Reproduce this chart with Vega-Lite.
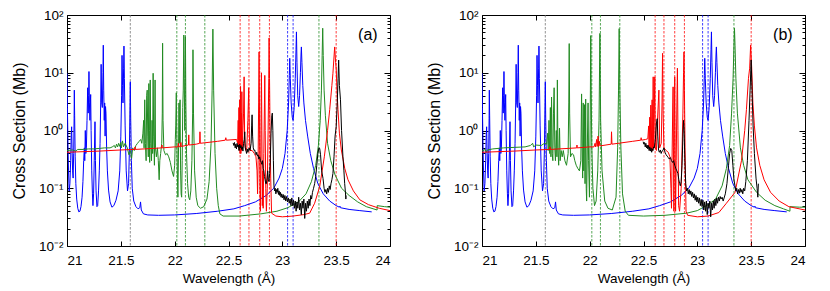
{
"$schema": "https://vega.github.io/schema/vega-lite/v6.json",
"background": "white",
"padding": {"left": 10, "top": 7, "right": 5, "bottom": 5},
"spacing": 34,
"config": {
  "view": {"stroke": "#000", "strokeWidth": 1},
  "font": "Liberation Sans",
  "axis": {"grid": false, "domain": false, "labelFont": "Liberation Sans", "titleFont": "Liberation Sans", "labelColor": "#000", "titleColor": "#000", "tickColor": "#000", "labelOverlap": false}
},
"datasets": {
"blue": [
{"x":21.000,"y":9.8},{"x":21.004,"y":2.5},{"x":21.009,"y":0.6},{"x":21.014,"y":0.2},{"x":21.020,"y":0.09},{"x":21.027,"y":0.12},{"x":21.034,"y":0.3},{"x":21.039,"y":0.8},{"x":21.043,"y":1.16},{"x":21.047,"y":0.5},{"x":21.052,"y":0.2},{"x":21.057,"y":0.15},{"x":21.062,"y":0.4},{"x":21.066,"y":1.6},{"x":21.068,"y":5.0},{"x":21.071,"y":1.8},{"x":21.076,"y":0.35},{"x":21.082,"y":0.12},{"x":21.090,"y":0.065},{"x":21.100,"y":0.045},{"x":21.110,"y":0.039},{"x":21.120,"y":0.04},{"x":21.130,"y":0.048},{"x":21.140,"y":0.07},{"x":21.148,"y":0.13},{"x":21.155,"y":0.3},{"x":21.161,"y":0.5},{"x":21.165,"y":0.3},{"x":21.170,"y":1.0},{"x":21.175,"y":0.4},{"x":21.180,"y":0.5},{"x":21.186,"y":1.5},{"x":21.192,"y":5.5},{"x":21.197,"y":2.0},{"x":21.201,"y":4},{"x":21.204,"y":10.5},{"x":21.208,"y":3},{"x":21.213,"y":1.5},{"x":21.218,"y":3.5},{"x":21.220,"y":4.2},{"x":21.224,"y":1.0},{"x":21.230,"y":0.2},{"x":21.236,"y":0.08},{"x":21.241,"y":0.05},{"x":21.247,"y":0.08},{"x":21.253,"y":0.3},{"x":21.260,"y":1.42},{"x":21.264,"y":0.3},{"x":21.270,"y":0.09},{"x":21.278,"y":0.048},{"x":21.285,"y":0.05},{"x":21.293,"y":0.09},{"x":21.300,"y":0.2},{"x":21.307,"y":0.6},{"x":21.313,"y":3},{"x":21.317,"y":14},{"x":21.322,"y":3},{"x":21.328,"y":2.5},{"x":21.334,"y":10},{"x":21.337,"y":30},{"x":21.341,"y":5},{"x":21.346,"y":1.5},{"x":21.350,"y":3.0},{"x":21.354,"y":0.8},{"x":21.358,"y":2.6},{"x":21.362,"y":2.0},{"x":21.368,"y":0.5},{"x":21.375,"y":0.2},{"x":21.386,"y":0.093},{"x":21.400,"y":0.058},{"x":21.417,"y":0.047},{"x":21.435,"y":0.05},{"x":21.455,"y":0.062},{"x":21.475,"y":0.09},{"x":21.490,"y":0.2},{"x":21.500,"y":0.8},{"x":21.507,"y":4},{"x":21.511,"y":20},{"x":21.516,"y":6},{"x":21.520,"y":3},{"x":21.526,"y":12},{"x":21.529,"y":29},{"x":21.533,"y":8},{"x":21.540,"y":1.2},{"x":21.550,"y":0.2},{"x":21.562,"y":0.09},{"x":21.572,"y":0.12},{"x":21.580,"y":0.5},{"x":21.585,"y":3},{"x":21.588,"y":7.0},{"x":21.592,"y":1.5},{"x":21.598,"y":0.3},{"x":21.606,"y":0.1},{"x":21.620,"y":0.06},{"x":21.640,"y":0.048},{"x":21.660,"y":0.044},{"x":21.676,"y":0.046},{"x":21.683,"y":0.058},{"x":21.690,"y":0.042},{"x":21.710,"y":0.036},{"x":21.750,"y":0.0345},{"x":21.850,"y":0.034},{"x":22.000,"y":0.0345},{"x":22.200,"y":0.0365},{"x":22.400,"y":0.04},{"x":22.550,"y":0.044},{"x":22.650,"y":0.05},{"x":22.750,"y":0.058},{"x":22.850,"y":0.075},{"x":22.920,"y":0.1},{"x":22.970,"y":0.15},{"x":23.000,"y":0.22},{"x":23.025,"y":0.4},{"x":23.045,"y":1.0},{"x":23.058,"y":3},{"x":23.065,"y":9},{"x":23.069,"y":17.8},{"x":23.074,"y":8},{"x":23.082,"y":3},{"x":23.092,"y":1.7},{"x":23.100,"y":1.5},{"x":23.110,"y":2.5},{"x":23.120,"y":8},{"x":23.127,"y":25},{"x":23.131,"y":51},{"x":23.136,"y":15},{"x":23.143,"y":4},{"x":23.152,"y":2.6},{"x":23.160,"y":4},{"x":23.168,"y":10},{"x":23.174,"y":22},{"x":23.177,"y":28},{"x":23.182,"y":15},{"x":23.190,"y":6},{"x":23.200,"y":3},{"x":23.215,"y":1.5},{"x":23.235,"y":0.8},{"x":23.260,"y":0.4},{"x":23.290,"y":0.22},{"x":23.330,"y":0.12},{"x":23.380,"y":0.08},{"x":23.440,"y":0.06},{"x":23.500,"y":0.05},{"x":23.530,"y":0.047},{"x":23.535,"y":0.049},{"x":23.540,"y":0.046},{"x":23.620,"y":0.043},{"x":23.720,"y":0.041},{"x":23.830,"y":0.039}
],
"ga": [
{"x":21.000,"y":0.45},{"x":21.050,"y":0.46},{"x":21.080,"y":0.44},{"x":21.100,"y":0.47},{"x":21.150,"y":0.47},{"x":21.200,"y":0.48},{"x":21.250,"y":0.48},{"x":21.300,"y":0.49},{"x":21.350,"y":0.50},{"x":21.400,"y":0.50},{"x":21.420,"y":0.52},{"x":21.440,"y":0.55},{"x":21.450,"y":0.50},{"x":21.460,"y":0.58},{"x":21.470,"y":0.52},{"x":21.480,"y":0.6},{"x":21.490,"y":0.53},{"x":21.500,"y":0.62},{"x":21.505,"y":0.5},{"x":21.515,"y":0.66},{"x":21.525,"y":0.52},{"x":21.540,"y":0.6},{"x":21.560,"y":0.5},{"x":21.575,"y":0.38},{"x":21.590,"y":0.45},{"x":21.600,"y":0.33},{"x":21.610,"y":0.5},{"x":21.625,"y":0.45},{"x":21.640,"y":0.55},{"x":21.655,"y":0.6},{"x":21.670,"y":0.65},{"x":21.685,"y":0.7},{"x":21.695,"y":0.6},{"x":21.705,"y":0.9},{"x":21.712,"y":1.5},{"x":21.716,"y":0.5},{"x":21.722,"y":3.4},{"x":21.728,"y":0.6},{"x":21.735,"y":0.3},{"x":21.740,"y":4.0},{"x":21.745,"y":5.0},{"x":21.750,"y":0.8},{"x":21.755,"y":0.35},{"x":21.760,"y":6.5},{"x":21.765,"y":1.0},{"x":21.768,"y":0.28},{"x":21.773,"y":7.5},{"x":21.778,"y":0.6},{"x":21.785,"y":0.3},{"x":21.790,"y":1.5},{"x":21.795,"y":0.4},{"x":21.800,"y":9.8},{"x":21.805,"y":0.8},{"x":21.812,"y":0.25},{"x":21.818,"y":7.5},{"x":21.822,"y":0.5},{"x":21.830,"y":0.35},{"x":21.840,"y":0.5},{"x":21.848,"y":0.3},{"x":21.856,"y":0.14},{"x":21.862,"y":0.3},{"x":21.870,"y":0.4},{"x":21.880,"y":0.6},{"x":21.885,"y":2},{"x":21.888,"y":32.5},{"x":21.892,"y":1.5},{"x":21.900,"y":0.45},{"x":21.915,"y":0.38},{"x":21.930,"y":0.4},{"x":21.945,"y":0.35},{"x":21.960,"y":0.28},{"x":21.975,"y":0.2},{"x":21.990,"y":0.16},{"x":22.000,"y":0.25},{"x":22.006,"y":0.7},{"x":22.010,"y":1.2},{"x":22.015,"y":4.5},{"x":22.020,"y":0.8},{"x":22.026,"y":0.15},{"x":22.030,"y":0.07},{"x":22.036,"y":0.5},{"x":22.040,"y":3},{"x":22.044,"y":0.6},{"x":22.050,"y":3.4},{"x":22.055,"y":0.2},{"x":22.060,"y":0.08},{"x":22.065,"y":0.07},{"x":22.070,"y":0.3},{"x":22.075,"y":2.5},{"x":22.080,"y":5},{"x":22.085,"y":45},{"x":22.089,"y":8},{"x":22.094,"y":1},{"x":22.098,"y":8},{"x":22.100,"y":42},{"x":22.104,"y":3},{"x":22.110,"y":0.4},{"x":22.120,"y":0.12},{"x":22.130,"y":0.07},{"x":22.140,"y":0.063},{"x":22.150,"y":0.09},{"x":22.160,"y":0.3},{"x":22.167,"y":2},{"x":22.170,"y":25},{"x":22.175,"y":2},{"x":22.185,"y":0.2},{"x":22.200,"y":0.07},{"x":22.215,"y":0.05},{"x":22.240,"y":0.045},{"x":22.270,"y":0.048},{"x":22.300,"y":0.065},{"x":22.320,"y":0.13},{"x":22.338,"y":0.6},{"x":22.348,"y":5},{"x":22.355,"y":57},{"x":22.362,"y":5},{"x":22.375,"y":0.4},{"x":22.390,"y":0.1},{"x":22.405,"y":0.05},{"x":22.420,"y":0.036},{"x":22.450,"y":0.033},{"x":22.600,"y":0.033},{"x":22.800,"y":0.036},{"x":22.950,"y":0.04},{"x":23.050,"y":0.046},{"x":23.150,"y":0.058},{"x":23.220,"y":0.08},{"x":23.270,"y":0.13},{"x":23.310,"y":0.25},{"x":23.335,"y":0.55},{"x":23.352,"y":1.5},{"x":23.363,"y":5},{"x":23.370,"y":20},{"x":23.375,"y":59},{"x":23.380,"y":20},{"x":23.388,"y":5},{"x":23.400,"y":1.8},{"x":23.420,"y":0.6},{"x":23.450,"y":0.3},{"x":23.490,"y":0.17},{"x":23.550,"y":0.1},{"x":23.620,"y":0.075},{"x":23.700,"y":0.058},{"x":23.780,"y":0.048},{"x":23.880,"y":0.042},{"x":23.881,"y":0.05},{"x":23.950,"y":0.048},{"x":24.000,"y":0.047}
],
"gb": [
{"x":21.000,"y":0.44},{"x":21.030,"y":0.47},{"x":21.040,"y":0.42},{"x":21.050,"y":0.46},{"x":21.100,"y":0.48},{"x":21.200,"y":0.50},{"x":21.300,"y":0.51},{"x":21.400,"y":0.52},{"x":21.450,"y":0.55},{"x":21.470,"y":0.6},{"x":21.480,"y":0.52},{"x":21.500,"y":0.56},{"x":21.550,"y":0.55},{"x":21.580,"y":0.6},{"x":21.600,"y":0.58},{"x":21.610,"y":0.9},{"x":21.615,"y":0.45},{"x":21.622,"y":1.5},{"x":21.628,"y":0.4},{"x":21.635,"y":2.5},{"x":21.640,"y":0.35},{"x":21.646,"y":3.8},{"x":21.652,"y":0.4},{"x":21.658,"y":0.3},{"x":21.664,"y":2},{"x":21.670,"y":5.5},{"x":21.676,"y":0.5},{"x":21.682,"y":0.3},{"x":21.690,"y":1.0},{"x":21.696,"y":0.35},{"x":21.700,"y":7.5},{"x":21.705,"y":0.5},{"x":21.712,"y":0.25},{"x":21.720,"y":1.1},{"x":21.726,"y":0.3},{"x":21.735,"y":0.45},{"x":21.745,"y":0.35},{"x":21.755,"y":0.45},{"x":21.770,"y":0.3},{"x":21.785,"y":0.25},{"x":21.800,"y":0.4},{"x":21.806,"y":3},{"x":21.810,"y":32},{"x":21.814,"y":2},{"x":21.822,"y":0.35},{"x":21.835,"y":0.4},{"x":21.850,"y":0.38},{"x":21.862,"y":0.3},{"x":21.875,"y":0.25},{"x":21.890,"y":0.22},{"x":21.905,"y":0.2},{"x":21.918,"y":0.3},{"x":21.925,"y":4.3},{"x":21.930,"y":0.5},{"x":21.935,"y":0.15},{"x":21.940,"y":3},{"x":21.945,"y":0.2},{"x":21.952,"y":2.8},{"x":21.957,"y":0.12},{"x":21.963,"y":3.5},{"x":21.968,"y":0.1},{"x":21.972,"y":0.06},{"x":21.978,"y":0.5},{"x":21.985,"y":3},{"x":21.990,"y":0.3},{"x":21.998,"y":0.07},{"x":22.005,"y":1.5},{"x":22.010,"y":44},{"x":22.014,"y":5},{"x":22.020,"y":0.5},{"x":22.030,"y":0.1},{"x":22.045,"y":0.05},{"x":22.060,"y":0.06},{"x":22.075,"y":0.2},{"x":22.087,"y":1.5},{"x":22.095,"y":48},{"x":22.102,"y":1.5},{"x":22.115,"y":0.2},{"x":22.140,"y":0.06},{"x":22.170,"y":0.045},{"x":22.210,"y":0.042},{"x":22.245,"y":0.07},{"x":22.260,"y":0.5},{"x":22.268,"y":5},{"x":22.274,"y":58},{"x":22.280,"y":5},{"x":22.290,"y":0.5},{"x":22.305,"y":0.08},{"x":22.330,"y":0.04},{"x":22.360,"y":0.034},{"x":22.500,"y":0.033},{"x":22.700,"y":0.034},{"x":22.900,"y":0.037},{"x":23.000,"y":0.041},{"x":23.100,"y":0.052},{"x":23.170,"y":0.065},{"x":23.230,"y":0.11},{"x":23.270,"y":0.22},{"x":23.300,"y":0.55},{"x":23.318,"y":2},{"x":23.332,"y":8},{"x":23.340,"y":30},{"x":23.345,"y":59},{"x":23.350,"y":30},{"x":23.358,"y":8},{"x":23.372,"y":2},{"x":23.400,"y":0.5},{"x":23.430,"y":0.25},{"x":23.470,"y":0.14},{"x":23.550,"y":0.085},{"x":23.630,"y":0.062},{"x":23.720,"y":0.05},{"x":23.800,"y":0.044},{"x":23.860,"y":0.04},{"x":23.861,"y":0.048},{"x":23.950,"y":0.047},{"x":24.000,"y":0.047}
],
"ra": [
{"x":21.000,"y":0.42},{"x":21.300,"y":0.44},{"x":21.500,"y":0.46},{"x":21.630,"y":0.47},{"x":21.632,"y":0.52},{"x":21.634,"y":0.47},{"x":21.800,"y":0.49},{"x":21.880,"y":0.5},{"x":21.882,"y":0.56},{"x":21.884,"y":0.5},{"x":22.000,"y":0.52},{"x":22.030,"y":0.52},{"x":22.035,"y":0.6},{"x":22.040,"y":0.52},{"x":22.055,"y":0.53},{"x":22.058,"y":0.62},{"x":22.061,"y":0.53},{"x":22.128,"y":0.56},{"x":22.131,"y":0.84},{"x":22.134,"y":0.56},{"x":22.200,"y":0.58},{"x":22.232,"y":0.6},{"x":22.235,"y":0.95},{"x":22.238,"y":0.6},{"x":22.400,"y":0.65},{"x":22.470,"y":0.68},{"x":22.475,"y":0.75},{"x":22.480,"y":0.68},{"x":22.575,"y":0.7},{"x":22.585,"y":0.6},{"x":22.590,"y":1.5},{"x":22.593,"y":0.5},{"x":22.597,"y":2.5},{"x":22.600,"y":0.45},{"x":22.604,"y":3.4},{"x":22.608,"y":0.4},{"x":22.612,"y":5.8},{"x":22.615,"y":0.4},{"x":22.618,"y":2},{"x":22.621,"y":0.45},{"x":22.624,"y":4.7},{"x":22.628,"y":0.5},{"x":22.635,"y":1.2},{"x":22.640,"y":2},{"x":22.645,"y":8.5},{"x":22.650,"y":0.6},{"x":22.660,"y":0.45},{"x":22.670,"y":0.5},{"x":22.680,"y":1.5},{"x":22.688,"y":5.5},{"x":22.694,"y":0.8},{"x":22.700,"y":0.45},{"x":22.720,"y":0.45},{"x":22.740,"y":0.4},{"x":22.755,"y":0.35},{"x":22.765,"y":0.2},{"x":22.770,"y":0.08},{"x":22.775,"y":0.3},{"x":22.780,"y":3},{"x":22.784,"y":23},{"x":22.788,"y":2},{"x":22.792,"y":0.1},{"x":22.796,"y":0.04},{"x":22.800,"y":0.3},{"x":22.804,"y":4},{"x":22.806,"y":10},{"x":22.810,"y":1},{"x":22.814,"y":0.05},{"x":22.818,"y":0.2},{"x":22.822,"y":0.045},{"x":22.828,"y":0.4},{"x":22.834,"y":3},{"x":22.837,"y":9},{"x":22.841,"y":1},{"x":22.846,"y":0.1},{"x":22.852,"y":0.04},{"x":22.860,"y":0.1},{"x":22.868,"y":1},{"x":22.874,"y":8},{"x":22.877,"y":40},{"x":22.881,"y":8},{"x":22.886,"y":1},{"x":22.892,"y":0.15},{"x":22.900,"y":0.037},{"x":22.940,"y":0.033},{"x":23.000,"y":0.032},{"x":23.100,"y":0.033},{"x":23.200,"y":0.035},{"x":23.254,"y":0.037},{"x":23.300,"y":0.055},{"x":23.347,"y":0.107},{"x":23.390,"y":0.35},{"x":23.420,"y":1},{"x":23.440,"y":2.3},{"x":23.460,"y":6},{"x":23.470,"y":9.8},{"x":23.486,"y":28},{"x":23.495,"y":15},{"x":23.500,"y":12},{"x":23.510,"y":4},{"x":23.517,"y":2.3},{"x":23.530,"y":0.9},{"x":23.548,"y":0.46},{"x":23.580,"y":0.22},{"x":23.610,"y":0.14},{"x":23.660,"y":0.09},{"x":23.720,"y":0.063},{"x":23.800,"y":0.052},{"x":23.900,"y":0.045},{"x":24.000,"y":0.041}
],
"rb": [
{"x":21.000,"y":0.42},{"x":21.300,"y":0.44},{"x":21.500,"y":0.46},{"x":21.630,"y":0.47},{"x":21.632,"y":0.52},{"x":21.634,"y":0.47},{"x":21.800,"y":0.49},{"x":21.880,"y":0.5},{"x":21.882,"y":0.56},{"x":21.884,"y":0.5},{"x":22.000,"y":0.52},{"x":22.040,"y":0.52},{"x":22.050,"y":0.6},{"x":22.055,"y":0.52},{"x":22.065,"y":0.7},{"x":22.070,"y":0.53},{"x":22.078,"y":0.8},{"x":22.082,"y":0.53},{"x":22.090,"y":0.65},{"x":22.095,"y":0.54},{"x":22.200,"y":0.58},{"x":22.203,"y":0.95},{"x":22.207,"y":0.58},{"x":22.400,"y":0.65},{"x":22.475,"y":0.68},{"x":22.478,"y":0.75},{"x":22.482,"y":0.68},{"x":22.520,"y":0.7},{"x":22.540,"y":0.72},{"x":22.548,"y":1.2},{"x":22.552,"y":0.5},{"x":22.558,"y":1.7},{"x":22.562,"y":0.45},{"x":22.568,"y":2.75},{"x":22.572,"y":0.45},{"x":22.580,"y":3.4},{"x":22.584,"y":0.45},{"x":22.590,"y":8.5},{"x":22.594,"y":0.5},{"x":22.600,"y":2},{"x":22.605,"y":8.5},{"x":22.610,"y":0.5},{"x":22.620,"y":0.45},{"x":22.630,"y":1.5},{"x":22.643,"y":5},{"x":22.650,"y":0.5},{"x":22.665,"y":0.6},{"x":22.672,"y":3},{"x":22.677,"y":21.7},{"x":22.682,"y":2},{"x":22.690,"y":0.5},{"x":22.710,"y":0.45},{"x":22.730,"y":0.42},{"x":22.745,"y":0.35},{"x":22.755,"y":0.1},{"x":22.760,"y":0.045},{"x":22.765,"y":0.3},{"x":22.772,"y":3},{"x":22.775,"y":5.7},{"x":22.778,"y":0.5},{"x":22.782,"y":0.04},{"x":22.786,"y":1},{"x":22.790,"y":8.5},{"x":22.794,"y":0.5},{"x":22.798,"y":0.04},{"x":22.804,"y":0.3},{"x":22.810,"y":3},{"x":22.815,"y":12},{"x":22.820,"y":1},{"x":22.826,"y":0.05},{"x":22.835,"y":0.04},{"x":22.850,"y":0.1},{"x":22.866,"y":2},{"x":22.872,"y":10},{"x":22.876,"y":23},{"x":22.880,"y":5},{"x":22.886,"y":0.5},{"x":22.895,"y":0.04},{"x":22.910,"y":0.034},{"x":23.000,"y":0.032},{"x":23.100,"y":0.033},{"x":23.200,"y":0.038},{"x":23.270,"y":0.055},{"x":23.350,"y":0.085},{"x":23.410,"y":0.3},{"x":23.440,"y":1},{"x":23.456,"y":2.3},{"x":23.475,"y":8},{"x":23.486,"y":12},{"x":23.495,"y":30},{"x":23.505,"y":12},{"x":23.516,"y":3},{"x":23.530,"y":1.2},{"x":23.550,"y":0.5},{"x":23.580,"y":0.25},{"x":23.620,"y":0.14},{"x":23.680,"y":0.085},{"x":23.760,"y":0.06},{"x":23.850,"y":0.048},{"x":24.000,"y":0.042}
],
"ka": [
{"x":22.543,"y":0.61},{"x":22.550,"y":0.55},{"x":22.556,"y":0.62},{"x":22.562,"y":0.5},{"x":22.568,"y":0.58},{"x":22.574,"y":0.48},{"x":22.580,"y":0.6},{"x":22.586,"y":0.52},{"x":22.592,"y":0.56},{"x":22.598,"y":0.45},{"x":22.604,"y":0.58},{"x":22.610,"y":0.5},{"x":22.616,"y":0.55},{"x":22.622,"y":0.47},{"x":22.628,"y":0.52},{"x":22.634,"y":0.44},{"x":22.640,"y":0.6},{"x":22.646,"y":0.7},{"x":22.651,"y":0.95},{"x":22.656,"y":0.5},{"x":22.662,"y":0.45},{"x":22.668,"y":0.4},{"x":22.674,"y":0.48},{"x":22.680,"y":0.42},{"x":22.686,"y":0.46},{"x":22.692,"y":0.5},{"x":22.700,"y":0.45},{"x":22.710,"y":0.6},{"x":22.715,"y":1.2},{"x":22.719,"y":1.87},{"x":22.724,"y":0.8},{"x":22.730,"y":0.5},{"x":22.737,"y":0.45},{"x":22.744,"y":0.46},{"x":22.750,"y":0.4},{"x":22.756,"y":0.38},{"x":22.762,"y":0.42},{"x":22.768,"y":0.36},{"x":22.775,"y":0.38},{"x":22.782,"y":0.32},{"x":22.790,"y":0.35},{"x":22.797,"y":0.3},{"x":22.804,"y":0.28},{"x":22.810,"y":0.26},{"x":22.816,"y":0.3},{"x":22.822,"y":0.22},{"x":22.828,"y":0.2},{"x":22.834,"y":0.16},{"x":22.840,"y":0.14},{"x":22.846,"y":0.12},{"x":22.852,"y":0.12},{"x":22.858,"y":0.15},{"x":22.864,"y":0.2},{"x":22.870,"y":0.14},{"x":22.876,"y":0.13},{"x":22.882,"y":0.18},{"x":22.888,"y":0.3},{"x":22.895,"y":0.9},{"x":22.902,"y":1.8},{"x":22.907,"y":2.0},{"x":22.912,"y":1.0},{"x":22.917,"y":0.3},{"x":22.922,"y":0.11},{"x":22.928,"y":0.09},{"x":22.934,"y":0.1},{"x":22.940,"y":0.08},{"x":22.946,"y":0.095},{"x":22.952,"y":0.085},{"x":22.958,"y":0.1},{"x":22.964,"y":0.078},{"x":22.970,"y":0.09},{"x":22.976,"y":0.075},{"x":22.982,"y":0.085},{"x":22.988,"y":0.07},{"x":22.994,"y":0.08},{"x":23.000,"y":0.068},{"x":23.008,"y":0.078},{"x":23.016,"y":0.063},{"x":23.024,"y":0.075},{"x":23.032,"y":0.06},{"x":23.040,"y":0.072},{"x":23.048,"y":0.058},{"x":23.056,"y":0.068},{"x":23.064,"y":0.055},{"x":23.072,"y":0.065},{"x":23.080,"y":0.05},{"x":23.088,"y":0.068},{"x":23.096,"y":0.05},{"x":23.104,"y":0.062},{"x":23.112,"y":0.045},{"x":23.120,"y":0.06},{"x":23.128,"y":0.04},{"x":23.136,"y":0.058},{"x":23.144,"y":0.045},{"x":23.152,"y":0.07},{"x":23.160,"y":0.042},{"x":23.168,"y":0.055},{"x":23.176,"y":0.035},{"x":23.184,"y":0.06},{"x":23.192,"y":0.045},{"x":23.200,"y":0.065},{"x":23.208,"y":0.03},{"x":23.216,"y":0.055},{"x":23.224,"y":0.04},{"x":23.232,"y":0.06},{"x":23.240,"y":0.045},{"x":23.248,"y":0.065},{"x":23.256,"y":0.05},{"x":23.264,"y":0.075},{"x":23.272,"y":0.065},{"x":23.280,"y":0.085},{"x":23.290,"y":0.1},{"x":23.300,"y":0.12},{"x":23.310,"y":0.16},{"x":23.320,"y":0.25},{"x":23.330,"y":0.4},{"x":23.340,"y":0.5},{"x":23.347,"y":0.49},{"x":23.355,"y":0.38},{"x":23.365,"y":0.2},{"x":23.378,"y":0.148},{"x":23.388,"y":0.1},{"x":23.396,"y":0.085},{"x":23.404,"y":0.095},{"x":23.412,"y":0.08},{"x":23.420,"y":0.1},{"x":23.428,"y":0.085},{"x":23.436,"y":0.11},{"x":23.444,"y":0.095},{"x":23.452,"y":0.12},{"x":23.460,"y":0.14},{"x":23.470,"y":0.18},{"x":23.480,"y":0.35},{"x":23.490,"y":0.8},{"x":23.500,"y":1.15},{"x":23.510,"y":3},{"x":23.518,"y":8},{"x":23.523,"y":16.6},{"x":23.530,"y":6},{"x":23.540,"y":3.4},{"x":23.550,"y":1},{"x":23.563,"y":0.35},{"x":23.572,"y":0.2},{"x":23.579,"y":0.12},{"x":23.585,"y":0.09},{"x":23.590,"y":0.065},{"x":23.592,"y":0.075}
],
"kb": [
{"x":22.497,"y":0.64},{"x":22.503,"y":0.58},{"x":22.510,"y":0.62},{"x":22.516,"y":0.52},{"x":22.522,"y":0.6},{"x":22.528,"y":0.5},{"x":22.534,"y":0.56},{"x":22.540,"y":0.48},{"x":22.546,"y":0.55},{"x":22.552,"y":0.45},{"x":22.558,"y":0.52},{"x":22.564,"y":0.44},{"x":22.570,"y":0.5},{"x":22.576,"y":0.42},{"x":22.582,"y":0.48},{"x":22.588,"y":0.45},{"x":22.594,"y":0.52},{"x":22.600,"y":0.5},{"x":22.610,"y":0.7},{"x":22.620,"y":1.3},{"x":22.627,"y":1.6},{"x":22.633,"y":0.8},{"x":22.640,"y":0.45},{"x":22.648,"y":0.42},{"x":22.656,"y":0.46},{"x":22.664,"y":0.4},{"x":22.672,"y":0.44},{"x":22.680,"y":0.45},{"x":22.690,"y":0.5},{"x":22.700,"y":0.42},{"x":22.710,"y":0.38},{"x":22.720,"y":0.36},{"x":22.730,"y":0.34},{"x":22.740,"y":0.32},{"x":22.750,"y":0.34},{"x":22.760,"y":0.3},{"x":22.770,"y":0.28},{"x":22.780,"y":0.3},{"x":22.790,"y":0.25},{"x":22.800,"y":0.22},{"x":22.810,"y":0.2},{"x":22.820,"y":0.18},{"x":22.828,"y":0.14},{"x":22.836,"y":0.12},{"x":22.842,"y":0.11},{"x":22.850,"y":0.13},{"x":22.858,"y":0.25},{"x":22.866,"y":0.8},{"x":22.872,"y":1.5},{"x":22.878,"y":0.9},{"x":22.884,"y":0.3},{"x":22.892,"y":0.12},{"x":22.900,"y":0.09},{"x":22.908,"y":0.1},{"x":22.916,"y":0.08},{"x":22.924,"y":0.095},{"x":22.932,"y":0.078},{"x":22.940,"y":0.09},{"x":22.948,"y":0.072},{"x":22.956,"y":0.085},{"x":22.964,"y":0.068},{"x":22.972,"y":0.08},{"x":22.980,"y":0.062},{"x":22.988,"y":0.075},{"x":22.996,"y":0.058},{"x":23.004,"y":0.07},{"x":23.012,"y":0.055},{"x":23.020,"y":0.068},{"x":23.028,"y":0.05},{"x":23.036,"y":0.064},{"x":23.044,"y":0.048},{"x":23.052,"y":0.062},{"x":23.060,"y":0.042},{"x":23.068,"y":0.058},{"x":23.076,"y":0.04},{"x":23.084,"y":0.06},{"x":23.092,"y":0.035},{"x":23.100,"y":0.055},{"x":23.108,"y":0.045},{"x":23.116,"y":0.06},{"x":23.124,"y":0.032},{"x":23.132,"y":0.055},{"x":23.140,"y":0.042},{"x":23.148,"y":0.06},{"x":23.156,"y":0.045},{"x":23.164,"y":0.065},{"x":23.172,"y":0.05},{"x":23.180,"y":0.068},{"x":23.188,"y":0.055},{"x":23.196,"y":0.07},{"x":23.204,"y":0.06},{"x":23.212,"y":0.072},{"x":23.220,"y":0.065},{"x":23.230,"y":0.07},{"x":23.240,"y":0.06},{"x":23.260,"y":0.08},{"x":23.275,"y":0.12},{"x":23.290,"y":0.25},{"x":23.300,"y":0.4},{"x":23.310,"y":0.49},{"x":23.320,"y":0.45},{"x":23.330,"y":0.25},{"x":23.340,"y":0.14},{"x":23.350,"y":0.11},{"x":23.358,"y":0.09},{"x":23.366,"y":0.1},{"x":23.374,"y":0.08},{"x":23.382,"y":0.095},{"x":23.390,"y":0.082},{"x":23.398,"y":0.1},{"x":23.406,"y":0.085},{"x":23.414,"y":0.095},{"x":23.422,"y":0.08},{"x":23.430,"y":0.1},{"x":23.440,"y":0.09},{"x":23.450,"y":0.13},{"x":23.465,"y":0.3},{"x":23.480,"y":1.5},{"x":23.490,"y":5},{"x":23.500,"y":16.6},{"x":23.508,"y":5},{"x":23.518,"y":1.2},{"x":23.530,"y":0.4},{"x":23.545,"y":0.15},{"x":23.555,"y":0.1},{"x":23.562,"y":0.07},{"x":23.567,"y":0.12}
],
"lines": [
{"x":21.588,"g":"gray"},{"x":22.020,"g":"green"},{"x":22.100,"g":"green"},{"x":22.280,"g":"green"},{"x":22.608,"g":"red"},{"x":22.690,"g":"red"},{"x":22.790,"g":"red"},{"x":22.880,"g":"red"},{"x":23.049,"g":"blue"},{"x":23.100,"g":"blue"},{"x":23.340,"g":"green"},{"x":23.500,"g":"red"}
]
},
"hconcat": [
{
"width": 323, "height": 231,
"resolve": {"axis": {"x": "independent", "y": "independent"}},
"layer": [
{"data": {"name": "lines"}, "mark": {"type": "rule", "strokeDash": [2.5, 1.5], "strokeWidth": 0.9, "opacity": 0.85},
 "encoding": {
  "x": {"field": "x", "type": "quantitative", "scale": {"domain": [21, 24], "nice": false, "zero": false}, "axis": {"orient": "bottom", "values": [21, 21.5, 22, 22.5, 23, 23.5, 24], "format": "~g", "tickSize": -5, "labelPadding": 12, "labelFontSize": 13.5, "titleFontSize": 13.5, "titleFontWeight": "normal", "title": "Wavelength (Å)", "titlePadding": 5}},
  "color": {"field": "g", "type": "nominal", "scale": {"domain": ["gray", "green", "red", "blue"], "range": ["#707070", "#228b22", "#ff0000", "#0000ff"]}, "legend": null}
 }},
{"data": {"name": "blue"}, "mark": {"type": "line", "color": "#0000ff", "strokeWidth": 1, "clip": true},
 "encoding": {
  "x": {"field": "x", "type": "quantitative", "scale": {"domain": [21, 24], "nice": false, "zero": false}, "axis": {"orient": "top", "values": [21, 21.5, 22, 22.5, 23, 23.5, 24], "tickSize": -5, "labels": false, "title": null}},
  "y": {"field": "y", "type": "quantitative", "scale": {"type": "log", "domain": [0.01, 100], "nice": false}, "axis": {"orient": "left", "title": "Cross Section (Mb)", "titleFontSize": 16, "titleFontWeight": "normal", "titlePadding": 11, "labelPadding": 10, "labelFontSize": 13.5, "values": [0.01,0.02,0.03,0.04,0.05,0.06,0.07,0.08,0.09,0.1,0.2,0.3,0.4,0.5,0.6,0.7,0.8,0.9,1,2,3,4,5,6,7,8,9,10,20,30,40,50,60,70,80,90,100], "tickSize": {"condition": {"test": "indexof([0.01,0.1,1,10,100], datum.value) >= 0", "value": -6}, "value": -3}, "labelExpr": "datum.value==100?'10²':datum.value==10?'10¹':datum.value==1?'10⁰':datum.value==0.1?'10⁻¹':datum.value==0.01?'10⁻²':''"}}
 }},
{"data": {"name": "ga"}, "mark": {"type": "line", "color": "#228b22", "strokeWidth": 1, "clip": true},
 "encoding": {
  "x": {"field": "x", "type": "quantitative", "scale": {"domain": [21, 24], "nice": false, "zero": false}, "axis": null},
  "y": {"field": "y", "type": "quantitative", "scale": {"type": "log", "domain": [0.01, 100], "nice": false}, "axis": {"orient": "right", "title": null, "labels": false, "values": [0.01,0.02,0.03,0.04,0.05,0.06,0.07,0.08,0.09,0.1,0.2,0.3,0.4,0.5,0.6,0.7,0.8,0.9,1,2,3,4,5,6,7,8,9,10,20,30,40,50,60,70,80,90,100], "tickSize": {"condition": {"test": "indexof([0.01,0.1,1,10,100], datum.value) >= 0", "value": -6}, "value": -3}}}
 }},
{"data": {"name": "ra"}, "mark": {"type": "line", "color": "#ff0000", "strokeWidth": 1, "clip": true},
 "encoding": {
  "x": {"field": "x", "type": "quantitative", "scale": {"domain": [21, 24], "nice": false, "zero": false}, "axis": null},
  "y": {"field": "y", "type": "quantitative", "scale": {"type": "log", "domain": [0.01, 100], "nice": false}, "axis": null}
 }},
{"data": {"name": "ka"}, "mark": {"type": "line", "color": "#000000", "strokeWidth": 1, "clip": true},
 "encoding": {
  "x": {"field": "x", "type": "quantitative", "scale": {"domain": [21, 24], "nice": false, "zero": false}, "axis": null},
  "y": {"field": "y", "type": "quantitative", "scale": {"type": "log", "domain": [0.01, 100], "nice": false}, "axis": null}
 }},
{"data": {"values": [{"t": "(a)", "x": 23.885, "y": 45}]}, "mark": {"type": "text", "align": "right", "baseline": "middle", "fontSize": 16, "font": "Liberation Sans", "color": "#000"},
 "encoding": {
  "x": {"field": "x", "type": "quantitative", "scale": {"domain": [21, 24], "nice": false, "zero": false}, "axis": null},
  "y": {"field": "y", "type": "quantitative", "scale": {"type": "log", "domain": [0.01, 100], "nice": false}, "axis": null},
  "text": {"field": "t"}
 }}
]
},
{
"width": 323, "height": 231,
"resolve": {"axis": {"x": "independent", "y": "independent"}},
"layer": [
{"data": {"name": "lines"}, "mark": {"type": "rule", "strokeDash": [2.5, 1.5], "strokeWidth": 0.9, "opacity": 0.85},
 "encoding": {
  "x": {"field": "x", "type": "quantitative", "scale": {"domain": [21, 24], "nice": false, "zero": false}, "axis": {"orient": "bottom", "values": [21, 21.5, 22, 22.5, 23, 23.5, 24], "format": "~g", "tickSize": -5, "labelPadding": 12, "labelFontSize": 13.5, "titleFontSize": 13.5, "titleFontWeight": "normal", "title": "Wavelength (Å)", "titlePadding": 5}},
  "color": {"field": "g", "type": "nominal", "scale": {"domain": ["gray", "green", "red", "blue"], "range": ["#707070", "#228b22", "#ff0000", "#0000ff"]}, "legend": null}
 }},
{"data": {"name": "blue"}, "mark": {"type": "line", "color": "#0000ff", "strokeWidth": 1, "clip": true},
 "encoding": {
  "x": {"field": "x", "type": "quantitative", "scale": {"domain": [21, 24], "nice": false, "zero": false}, "axis": {"orient": "top", "values": [21, 21.5, 22, 22.5, 23, 23.5, 24], "tickSize": -5, "labels": false, "title": null}},
  "y": {"field": "y", "type": "quantitative", "scale": {"type": "log", "domain": [0.01, 100], "nice": false}, "axis": {"orient": "left", "title": "Cross Section (Mb)", "titleFontSize": 16, "titleFontWeight": "normal", "titlePadding": 11, "labelPadding": 10, "labelFontSize": 13.5, "values": [0.01,0.02,0.03,0.04,0.05,0.06,0.07,0.08,0.09,0.1,0.2,0.3,0.4,0.5,0.6,0.7,0.8,0.9,1,2,3,4,5,6,7,8,9,10,20,30,40,50,60,70,80,90,100], "tickSize": {"condition": {"test": "indexof([0.01,0.1,1,10,100], datum.value) >= 0", "value": -6}, "value": -3}, "labelExpr": "datum.value==100?'10²':datum.value==10?'10¹':datum.value==1?'10⁰':datum.value==0.1?'10⁻¹':datum.value==0.01?'10⁻²':''"}}
 }},
{"data": {"name": "gb"}, "mark": {"type": "line", "color": "#228b22", "strokeWidth": 1, "clip": true},
 "encoding": {
  "x": {"field": "x", "type": "quantitative", "scale": {"domain": [21, 24], "nice": false, "zero": false}, "axis": null},
  "y": {"field": "y", "type": "quantitative", "scale": {"type": "log", "domain": [0.01, 100], "nice": false}, "axis": {"orient": "right", "title": null, "labels": false, "values": [0.01,0.02,0.03,0.04,0.05,0.06,0.07,0.08,0.09,0.1,0.2,0.3,0.4,0.5,0.6,0.7,0.8,0.9,1,2,3,4,5,6,7,8,9,10,20,30,40,50,60,70,80,90,100], "tickSize": {"condition": {"test": "indexof([0.01,0.1,1,10,100], datum.value) >= 0", "value": -6}, "value": -3}}}
 }},
{"data": {"name": "rb"}, "mark": {"type": "line", "color": "#ff0000", "strokeWidth": 1, "clip": true},
 "encoding": {
  "x": {"field": "x", "type": "quantitative", "scale": {"domain": [21, 24], "nice": false, "zero": false}, "axis": null},
  "y": {"field": "y", "type": "quantitative", "scale": {"type": "log", "domain": [0.01, 100], "nice": false}, "axis": null}
 }},
{"data": {"name": "kb"}, "mark": {"type": "line", "color": "#000000", "strokeWidth": 1, "clip": true},
 "encoding": {
  "x": {"field": "x", "type": "quantitative", "scale": {"domain": [21, 24], "nice": false, "zero": false}, "axis": null},
  "y": {"field": "y", "type": "quantitative", "scale": {"type": "log", "domain": [0.01, 100], "nice": false}, "axis": null}
 }},
{"data": {"values": [{"t": "(b)", "x": 23.885, "y": 45}]}, "mark": {"type": "text", "align": "right", "baseline": "middle", "fontSize": 16, "font": "Liberation Sans", "color": "#000"},
 "encoding": {
  "x": {"field": "x", "type": "quantitative", "scale": {"domain": [21, 24], "nice": false, "zero": false}, "axis": null},
  "y": {"field": "y", "type": "quantitative", "scale": {"type": "log", "domain": [0.01, 100], "nice": false}, "axis": null},
  "text": {"field": "t"}
 }}
]
}
]
}
